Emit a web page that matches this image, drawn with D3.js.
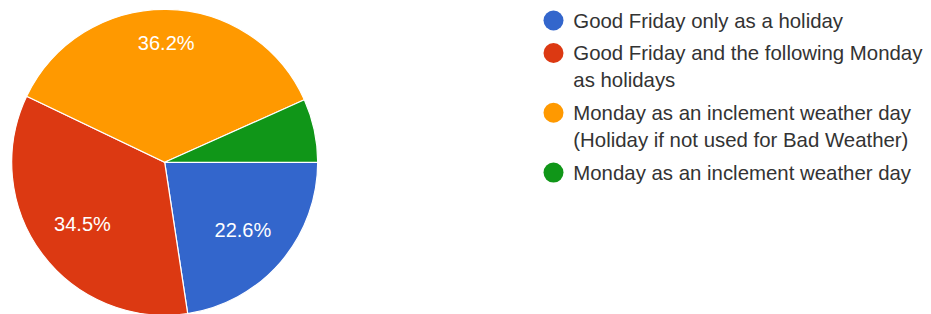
<!DOCTYPE html>
<html>
<head>
<meta charset="utf-8">
<script src="https://cdn.jsdelivr.net/npm/d3@7"></script>
<style>
  html, body { margin: 0; padding: 0; background: #fff; }
  svg { display: block; }
</style>
</head>
<body>
<div id="chart"></div>
<script>
const categories = [
    'Good Friday only as a holiday',
    'Good Friday and the following Monday as holidays',
    'Monday as an inclement weather day (Holiday if not used for Bad Weather)',
    'Monday as an inclement weather day'
];
const legendLines = [
    ['Good Friday only as a holiday'],
    ['Good Friday and the following Monday', 'as holidays'],
    ['Monday as an inclement weather day', '(Holiday if not used for Bad Weather)'],
    ['Monday as an inclement weather day']
];
const values = [22.6, 34.5, 36.2, 6.7];
const colors = ['#3366cc', '#dc3912', '#ff9900', '#109618'];

const width = 931, height = 314;
const cx = 164.7, cy = 162.3, radius = 153;
const font = 'Arial, "Liberation Sans", sans-serif';

const svg = d3.select('#chart')
  .append('svg')
    .attr('width', width)
    .attr('height', height);

const pie = d3.pie()
    .sort(null)
    .startAngle(Math.PI / 2)
    .endAngle(Math.PI / 2 + 2 * Math.PI);

const arc = d3.arc().innerRadius(0).outerRadius(radius);
const slices = pie(values);

const g = svg.append('g')
    .attr('transform', `translate(${cx},${cy})`);

g.selectAll('path')
    .data(slices).enter()
  .append('path')
    .attr('d', arc)
    .attr('fill', (d, i) => colors[i])
    .attr('stroke', '#fff')
    .attr('stroke-width', 1.2);

// labels: box centred on the mid-angle ray, pushed out until its far corner hits labelR
const labelR = 130;
g.selectAll('text.pct')
    .data(slices.filter(d => d.value >= 10)).enter()
  .append('text')
    .attr('class', 'pct')
    .attr('font-family', font)
    .attr('font-size', 20)
    .attr('fill', '#fff')
    .attr('text-anchor', 'middle')
    .text(d => d.value.toFixed(1) + '%')
    .each(function(d) {
        const w = this.getComputedTextLength() / 2;
        const h = 7.3;
        const a = (d.startAngle + d.endAngle) / 2;
        const ux = Math.sin(a), uy = -Math.cos(a);
        const sx = ux >= 0 ? w : -w, sy = uy >= 0 ? h : -h;
        // |t*u + s| = labelR
        const b = ux * sx + uy * sy;
        const c = sx * sx + sy * sy - labelR * labelR;
        const t = -b + Math.sqrt(b * b - c);
        d3.select(this)
            .attr('x', t * ux)
            .attr('y', t * uy + h);
    });

// legend
const legendX = 553.5, textX = 573.3;
const lineH = 27.3, itemGap = 32.5;
let y = 20.5;
const legend = svg.append('g');
legendLines.forEach((lines, i) => {
    const item = legend.append('g');
    item.append('circle')
        .attr('cx', legendX)
        .attr('cy', y)
        .attr('r', 10)
        .attr('fill', colors[i]);
    item.append('text')
        .attr('font-family', font)
        .attr('font-size', 20.4)
        .attr('fill', '#333')
        .selectAll('tspan')
        .data(lines).enter()
      .append('tspan')
        .attr('x', textX)
        .attr('y', (l, j) => y + 7 + j * lineH)
        .text(l => l);
    y += (lines.length - 1) * lineH + itemGap;
});
</script>
</body>
</html>
